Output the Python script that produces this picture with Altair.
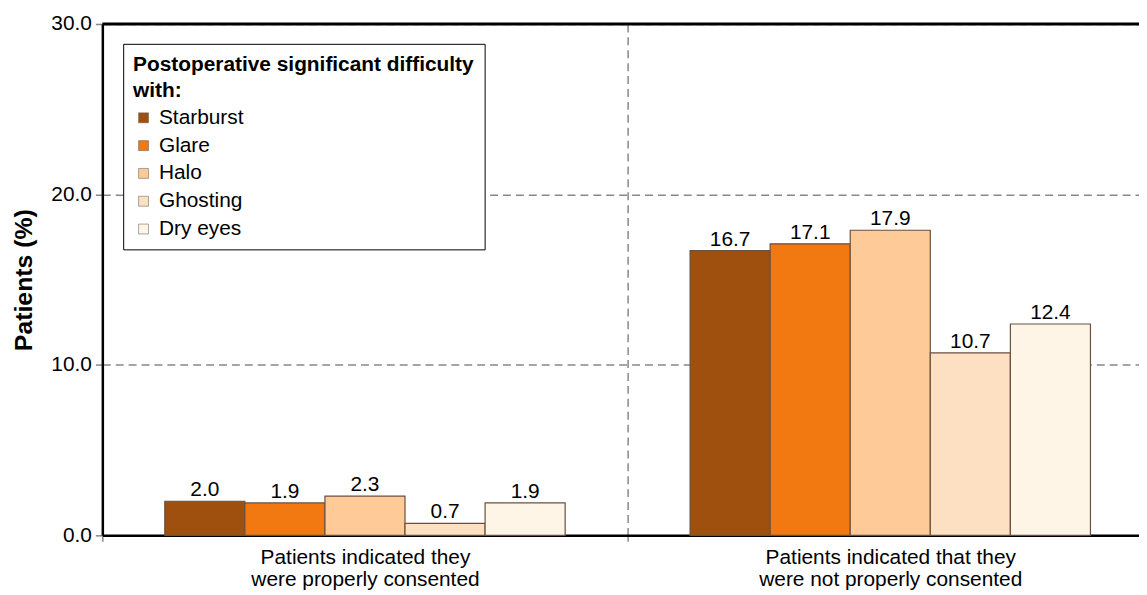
import altair as alt
import pandas as pd

categories = [
    "Patients indicated they\nwere properly consented",
    "Patients indicated that they\nwere not properly consented",
]
series = ["Starburst", "Glare", "Halo", "Ghosting", "Dry eyes"]
consented = [2.0, 1.9, 2.3, 0.7, 1.9]
not_consented = [16.7, 17.1, 17.9, 10.7, 12.4]
colors = ["#A0500E", "#F27812", "#FDCA98", "#FDDFC2", "#FFF5E7"]
y_ticks = [0, 10, 20, 30]

rows = []
for cat, vals in zip(categories, [consented, not_consented]):
    for s, v in zip(series, vals):
        rows.append({"group": cat, "series": s, "value": v})
df = pd.DataFrame(rows)

FONT = "Liberation Sans"

x_enc = alt.X(
    "group:N",
    sort=categories,
    scale=alt.Scale(range=[0, 1058], paddingInner=0, paddingOuter=0),
    axis=alt.Axis(
        title=None,
        labelAngle=0,
        labelExpr="split(datum.label, '\\n')",
        labelLimit=0,
        tickBand="extent",
        grid=True,
        gridDash=[8, 5],
        gridColor="#888888",
        gridWidth=1.5,
        domainColor="black",
        domainWidth=2.5,
        tickColor="#888888",
        tickWidth=1.5,
        tickSize=6,
        labelPadding=5,
        labelFontSize=21,
        labelLineHeight=23,
        labelColor="black",
        labelFont=FONT,
    ),
)
xoff_enc = alt.XOffset(
    "series:N", sort=series, scale=alt.Scale(paddingInner=0, paddingOuter=0.78)
)
y_enc = alt.Y(
    "value:Q",
    scale=alt.Scale(domain=[0, 30], nice=False),
    axis=alt.Axis(
        title="Patients (%)",
        values=y_ticks,
        format=".1f",
        grid=True,
        gridDash=[8, 5],
        gridColor="#888888",
        gridWidth=1.5,
        domainColor="black",
        domainWidth=2.5,
        tickColor="#888888",
        tickWidth=1.5,
        tickSize=7,
        labelPadding=4,
        labelFontSize=21,
        labelColor="black",
        labelFont=FONT,
        titleFont=FONT,
        titleFontSize=25,
        titleFontWeight="bold",
        titleColor="black",
        titlePadding=14,
        titleLimit=0,
    ),
)

base = alt.Chart(df)

bars = base.mark_bar(stroke="#6a5040", strokeWidth=1.2).encode(
    x=x_enc,
    xOffset=xoff_enc,
    y=y_enc,
    color=alt.Color(
        "series:N",
        sort=series,
        scale=alt.Scale(domain=series, range=colors),
        legend=alt.Legend(
            title=["Postoperative significant difficulty", "with:"],
            orient="none",
            legendX=21,
            legendY=20,
            padding=10,
            strokeColor="black",
            fillColor="white",
            titleFont=FONT,
            titleFontSize=21,
            titleFontWeight="bold",
            titleColor="black",
            titleLineHeight=27,
            titlePadding=6,
            titleLimit=0,
            labelFont=FONT,
            labelFontSize=21,
            labelColor="black",
            labelOffset=5,
            labelLimit=0,
            rowPadding=6,
            symbolType="square",
            symbolSize=100,
            symbolStrokeColor="#555555",
            symbolStrokeWidth=0.5,
        ),
    ),
)

labels = base.mark_text(
    baseline="alphabetic", dy=-5, fontSize=21, font=FONT, color="black"
).encode(
    x=alt.X("group:N", sort=categories),
    xOffset=alt.XOffset("series:N", sort=series),
    y=alt.Y("value:Q"),
    text=alt.Text("value:Q", format=".1f"),
)

top_rule = alt.Chart(pd.DataFrame({"v": [30]})).mark_rule(
    color="black", strokeWidth=3
).encode(y=alt.Y("v:Q"))

chart = (
    alt.layer(bars, labels, top_rule)
    .properties(
        width=1044,
        height=515,
        autosize=alt.AutoSizeParams(type="none"),
        padding={"left": 95, "top": 14, "right": 0, "bottom": 58},
        background="white",
    )
    .configure_view(stroke=None)
)

chart.save("out.html", embed_options={"renderer": "svg", "actions": False})
